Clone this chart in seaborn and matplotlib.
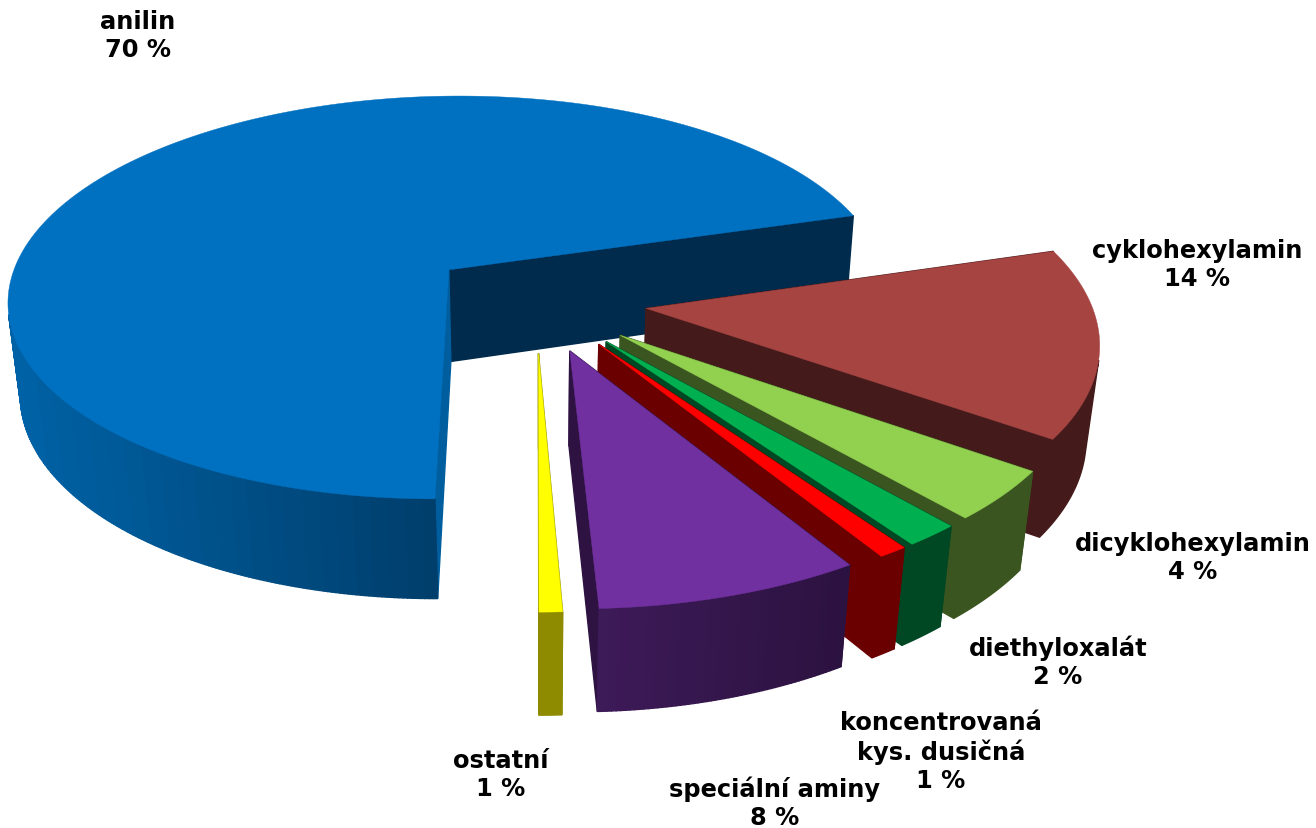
import numpy as np
import matplotlib
matplotlib.use("Agg")
import matplotlib.pyplot as plt
from matplotlib.colors import to_rgb
import seaborn as sns

categories = ["anilin", "cyklohexylamin", "dicyklohexylamin", "diethyloxalát",
              "koncentrovaná\nkys. dusičná", "speciální aminy", "ostatní"]
values = [70.4, 14.4, 3.8, 1.7, 0.9, 8.1, 0.7]
percent_labels = [70, 14, 4, 2, 1, 8, 1]
top_colors = ["#0070C0", "#A64442", "#92D050", "#00B050", "#FF0000", "#7030A0", "#FFFF00"]
wall_colors = ["#002B4D", "#451A1A", "#3B5520", "#004723", "#6B0000", "#2E1342", "#8E8B00"]
side_left = ["#0062A6", "#451A1A", "#3B5520", "#004723", "#6B0000", "#3D1A58", "#8E8B00"]
side_right = ["#003E6C", "#451A1A", "#3B5520", "#004723", "#6B0000", "#2C1240", "#8E8B00"]
start_wall = ["#005E9E", "#451A1A", "#3B5520", "#004723", "#6B0000", "#2E1342", "#8E8B00"]
label_xy = [(138, 36), (1197, 265), (1193, 558), (1058, 662), (941, 752), (775, 803), (501, 775)]

sns.set_theme(style="white")
plt.rcParams["font.family"] = ["DejaVu Sans"]

START = np.deg2rad(180.0)
EXPLODE = 0.25
X0, Y0 = 536.0, 301.0
A, B, H = 444.0, 206.0, 95.0
K, M = 0.14, 0.024


def project(U, V, Z):
    w = 1 - K * V + M * Z
    return X0 + A * U / w, Y0 + (B * V + H * Z) / w


fig, ax = plt.subplots(figsize=(13.16, 8.29), dpi=100)
fig.subplots_adjust(0, 0, 1, 1)
ax.set_xlim(0, 1316)
ax.set_ylim(829, 0)
ax.axis("off")

frac = np.array(values, dtype=float) / sum(values)
edges = START + np.concatenate([[0], np.cumsum(frac)]) * 2 * np.pi

for i, v in enumerate(values):
    t0, t1 = edges[i], edges[i + 1]
    tm = (t0 + t1) / 2
    du, dv = EXPLODE * np.sin(tm), -EXPLODE * np.cos(tm)
    th = np.linspace(t0, t1, max(8, int(np.degrees(t1 - t0) * 2)))
    U = du + np.sin(th)
    V = dv - np.cos(th)

    # radial walls
    for t, col in ((t1, wall_colors[i]), (t0, start_wall[i])):
        ue, ve = du + np.sin(t), dv - np.cos(t)
        px, py = zip(project(du, dv, 0), project(ue, ve, 0), project(ue, ve, 1), project(du, dv, 1))
        ax.fill(px, py, color=col, lw=1.0, zorder=i * 4 + 1)

    # outer wall: only the part facing the viewer, shaded in bands
    x_t, y_t = project(U, V, 0)
    x_b, y_b = project(U, V, 1)
    seg = []
    for j in range(len(th) - 1):
        px = [x_t[j], x_t[j + 1], x_b[j + 1], x_b[j]]
        py = [y_t[j], y_t[j + 1], y_b[j + 1], y_b[j]]
        area = sum(px[k] * py[(k + 1) % 4] - px[(k + 1) % 4] * py[k] for k in range(4))
        if area < 0:
            seg.append(j)
    seg = np.array(seg)
    c0, c1 = np.array(to_rgb(side_left[i])), np.array(to_rgb(side_right[i]))
    if len(seg):
        xmin, xmax = x_t[seg].min(), x_t[seg].max()
        if side_left[i] == side_right[i]:
            idx = np.r_[seg, seg[-1] + 1]
            ax.fill(np.r_[x_t[idx], x_b[idx][::-1]], np.r_[y_t[idx], y_b[idx][::-1]],
                    color=c0, lw=1.0, zorder=i * 4 + 2)
        else:
            for j in seg:
                f = np.clip((x_t[j] - xmin) / max(xmax - xmin, 1), 0, 1)
                f = np.round(f * 24) / 24
                ax.fill([x_t[j], x_t[j + 1], x_b[j + 1], x_b[j]],
                        [y_t[j], y_t[j + 1], y_b[j + 1], y_b[j]],
                        color=c0 + (c1 - c0) * f, lw=1.0, zorder=i * 4 + 2)

    # top face
    tx, ty = project(np.r_[du, U], np.r_[dv, V], 0)
    ax.fill(tx, ty, color=top_colors[i], lw=0.3, zorder=i * 4 + 3)

for name, p, (lx, ly) in zip(categories, percent_labels, label_xy):
    ax.text(lx, ly, f"{name}\n{p} %", ha="center", va="center", fontsize=17.4,
            fontweight="bold", color="black", linespacing=1.22, zorder=100)

fig.savefig("out.png", dpi=100, facecolor="white")
